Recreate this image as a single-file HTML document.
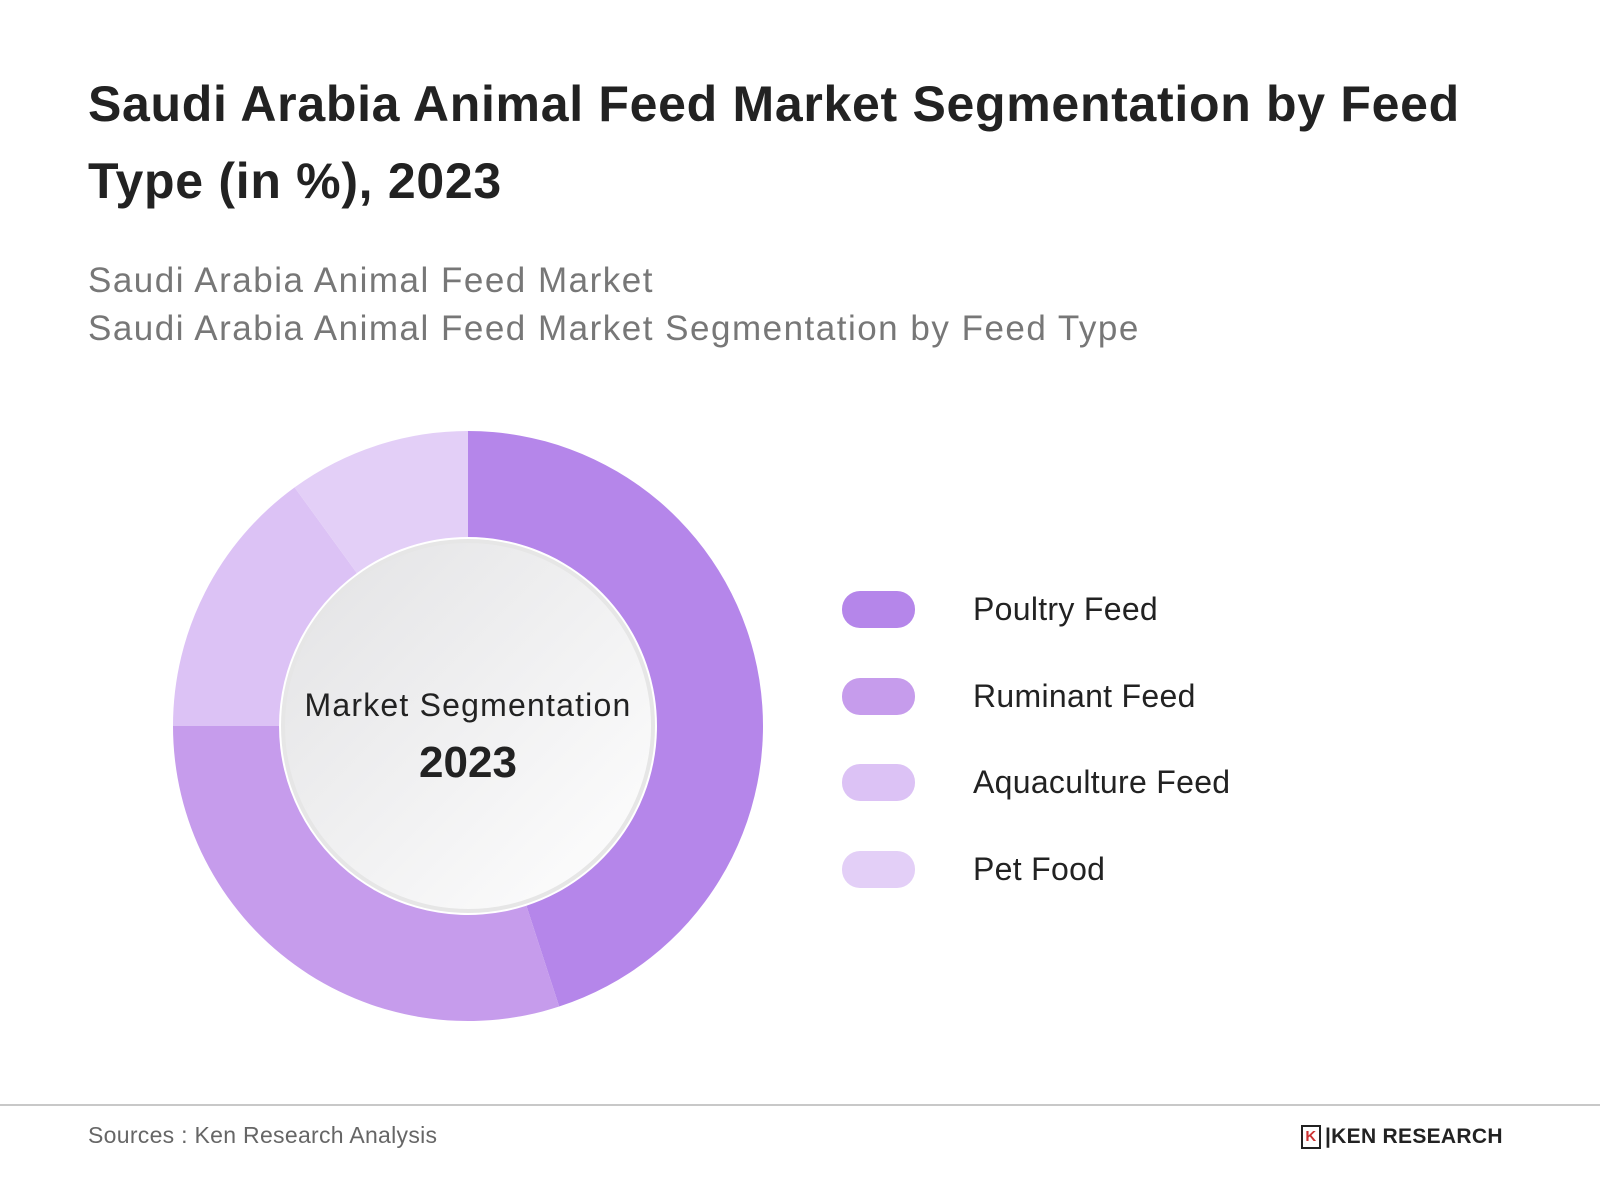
<!DOCTYPE html>
<html><head><meta charset="utf-8"><style>
body{margin:0;width:1600px;height:1200px;background:#fff;font-family:"Liberation Sans",sans-serif;position:relative;overflow:hidden}
.abs{position:absolute;white-space:nowrap}
</style></head><body>
<div class="abs" style="left:88px;top:66px;font-size:50px;font-weight:bold;color:#222;line-height:77px;letter-spacing:0.7px">Saudi Arabia Animal Feed Market Segmentation by Feed<br>Type (in %), 2023</div>
<div class="abs" style="left:88px;top:257px;font-size:35px;color:#777;line-height:48px;letter-spacing:1.5px">Saudi Arabia Animal Feed Market<br>Saudi Arabia Animal Feed Market Segmentation by Feed Type</div>
<svg id="chart" width="1600" height="1200" style="position:absolute;left:0;top:0">
<defs><linearGradient id="g" x1="0" y1="0" x2="1" y2="1"><stop offset="0" stop-color="#e2e2e4"/><stop offset="1" stop-color="#ffffff"/></linearGradient></defs>
</svg>
<div class="abs" style="left:268px;top:687px;width:400px;text-align:center;font-size:32px;color:#222;letter-spacing:1.2px">Market Segmentation</div>
<div class="abs" style="left:268px;top:738px;width:400px;text-align:center;font-size:44px;font-weight:bold;color:#222">2023</div>
<div id="legend"></div>
<div class="abs" style="left:0;top:1104px;width:1600px;height:2px;background:#c8c8c8"></div>
<div class="abs" style="left:88px;top:1122px;font-size:23px;color:#666;letter-spacing:0.3px">Sources : Ken Research Analysis</div>
<div class="abs" style="left:1301px;top:1125px;font-size:21px;font-weight:bold;color:#222;letter-spacing:0.3px"><span style="display:inline-block;width:16px;height:20px;border:2px solid #222;font-size:15px;text-align:center;line-height:20px;color:#c33;vertical-align:middle;margin-right:4px">K</span>|KEN RESEARCH</div>
<script>
const categories=["Poultry Feed","Ruminant Feed","Aquaculture Feed","Pet Food"];
const values=[45,30,15,10];
const colors=["#b586ea","#c69cec","#dcc2f5","#e3cff7"];
const svg=document.getElementById('chart');
const NS="http://www.w3.org/2000/svg";
const cx=468,cy=726,R=295,r=189;
const total=values.reduce((a,b)=>a+b,0);
function pt(a,rad){return [cx+rad*Math.sin(a),cy-rad*Math.cos(a)];}
let a0=0;
values.forEach((v,i)=>{
  const a1=a0+v/total*2*Math.PI;
  const [x0,y0]=pt(a0,R),[x1,y1]=pt(a1,R),[x2,y2]=pt(a1,r),[x3,y3]=pt(a0,r);
  const lg=(a1-a0)>Math.PI?1:0;
  const p=document.createElementNS(NS,'path');
  p.setAttribute('d',`M${x0},${y0}A${R},${R} 0 ${lg} 1 ${x1},${y1}L${x2},${y2}A${r},${r} 0 ${lg} 0 ${x3},${y3}Z`);
  p.setAttribute('fill',colors[i]);
  
  
  svg.appendChild(p);
  a0=a1;
});
const c=document.createElementNS(NS,'circle');
c.setAttribute('cx',cx);c.setAttribute('cy',cy);c.setAttribute('r',r-4);
c.setAttribute('fill','url(#g)');c.setAttribute('stroke','#e6e6e6');c.setAttribute('stroke-width','4');


svg.appendChild(c);
const lg=document.getElementById('legend');
categories.forEach((n,i)=>{
  const y=609+i*86.5;
  const s=document.createElement('div');
  s.className='abs';
  s.style.cssText=`left:842px;top:${y-18}px;width:73px;height:37px;border-radius:18px;background:${colors[i]}`;
  
  
  lg.appendChild(s);
  const t=document.createElement('div');
  t.className='abs';
  t.style.cssText=`left:973px;top:${y-19}px;font-size:32px;color:#222;line-height:38px;letter-spacing:0.3px`;
  t.textContent=n;
  
  
  lg.appendChild(t);
});
</script>
</body></html>
